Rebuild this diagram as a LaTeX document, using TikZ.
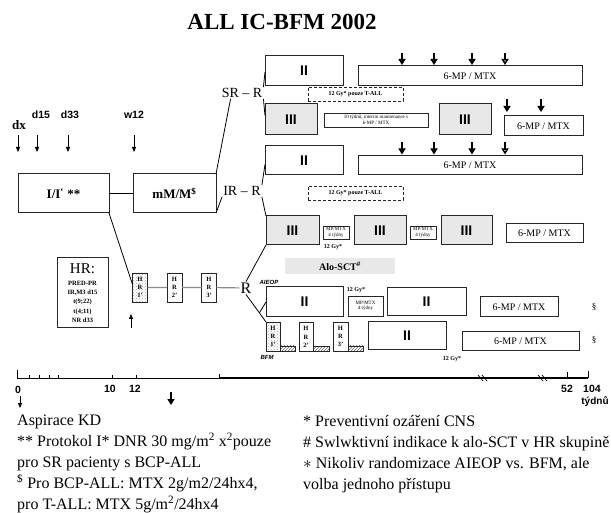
\documentclass[tikz,border=0pt]{standalone}
\usepackage{fontspec}
\setmainfont{Liberation Serif}
\newfontfamily\arialfont{Liberation Sans}
\usetikzlibrary{positioning,arrows.meta,patterns}

\tikzset{
  box/.style={draw=black!85, line width=1pt, inner sep=0pt, outer sep=0pt, align=center},
  roman/.style={box, font=\arialfont\bfseries\fontsize{14}{14}\selectfont},
  greyfill/.style={fill=black!9},
  maint/.style={box, font=\fontsize{10}{10}\selectfont, minimum height=19pt},
  smallbox/.style={box, line width=0.8pt, font=\fontsize{5}{5.6}\selectfont},
  gybox/.style={box, densely dashed, line width=0.9pt, font=\bfseries\fontsize{6}{6}\selectfont,
    minimum width=95pt, minimum height=14pt},
  gylabel/.style={font=\bfseries\fontsize{6}{6}\selectfont, inner sep=0pt},
  hrbox/.style={box, line width=0.9pt, minimum width=15pt, minimum height=29pt,
    font=\bfseries\fontsize{6.5}{8.3}\selectfont},
  hatched/.style={pattern=crosshatch dots, pattern color=black!35},
  strip/.style={draw=black!85, line width=0.6pt, pattern=north east lines, pattern color=black!60},
  arm/.style={font=\fontsize{14}{14}\selectfont, inner sep=1pt},
  day/.style={font=\arialfont\bfseries\fontsize{10.5}{10.5}\selectfont, inner sep=0pt},
  group/.style={font=\arialfont\bfseries\itshape\fontsize{6}{6}\selectfont, inner sep=0pt},
  pulse/.style={line width=1.5pt, -{Triangle[width=7pt,length=6pt]}},
  pulseopen/.style={line width=1.5pt, -{Triangle[open,width=7pt,length=6pt]}},
  thinarrow/.style={line width=0.8pt, -{Triangle[width=4pt,length=5pt]}},
  note/.style={font=\fontsize{16}{21}\selectfont, align=left, inner sep=0pt, anchor=north west},
  link/.style={line width=0.8pt},
}

\begin{document}
\begin{tikzpicture}[x=1pt, y=-1pt]
    \useasboundingbox (0,0) rectangle (611,513);

    \node[font=\bfseries\fontsize{23}{23}\selectfont] (title) at (282,22) {ALL IC-BFM 2002};

    % induction and consolidation
    \node[font=\bfseries\fontsize{13}{13}\selectfont] (dx) at (19,125) {dx};
    \node[day] (d15) at (41,115) {d15};
    \node[day] (d33) at (70,115) {d33};
    \node[day] (w12) at (134,115) {w12};
    \foreach \ax in {18,37,68,134}
        \draw[thinarrow] (\ax,135) -- (\ax,152);
    \node[box, font=\bfseries\fontsize{13}{13}\selectfont, minimum width=91pt, minimum height=39pt] (ind) at (63.5,193.5) {I/I\textsuperscript{‘}\ **};
    \node[box, font=\bfseries\fontsize{13}{13}\selectfont, minimum width=83pt, minimum height=39pt, right=24pt of ind] (mM) {mM/M\textsuperscript{\$}};
    \node[box, minimum width=51pt, minimum height=70pt, font=\bfseries\fontsize{6.5}{9.2}\selectfont] (hrcrit) at (82.5,293)
        {{\mdseries\fontsize{15}{15}\selectfont HR:}\\[3pt]PRED-PR\\IR,M3 d15\\t(9;22)\\t(4;11)\\NR d33};

    % SR branch
    \node[arm] (srR) at (242,93) {SR – R};
    \node[roman, minimum width=78pt, minimum height=30pt] (srII) at (304,71) {II};
    \node[maint, minimum width=224pt, minimum height=20pt] (srMaint) at (470,76) {6-MP / MTX};
    \foreach \dx in {44,76,114} {
        \draw[pulse] ([xshift=\dx pt, yshift=13pt]srMaint.north west) -- ([xshift=\dx pt, yshift=1pt]srMaint.north west);
    }
    \draw[pulseopen] ([xshift=147pt, yshift=13pt]srMaint.north west) -- ([xshift=147pt, yshift=1pt]srMaint.north west);
    \node[gybox] (srGy) at (355.5,94) {12 Gy* pouze T-ALL};
    \node[roman, greyfill, minimum width=52pt, minimum height=31pt] (srIII) at (291,119.5) {III};
    \node[smallbox, minimum width=104pt, minimum height=14pt] (srInterim) at (376,120) {10 týdnů, interim maintenance s\\6-MP / MTX};
    \node[roman, greyfill, minimum width=52pt, minimum height=31pt] (srIIIb) at (465,119.5) {III};
    \node[maint, minimum width=79pt, minimum height=20pt] (srMaintB) at (543.5,126) {6-MP / MTX};
    \foreach \dx in {3,37} {
        \draw[pulse] ([xshift=\dx pt, yshift=17pt]srMaintB.north west) -- ([xshift=\dx pt, yshift=4pt]srMaintB.north west);
    }

    % IR branch
    \node[arm] (irR) at (242,191) {IR – R};
    \node[roman, minimum width=78pt, minimum height=29pt] (irII) at (304,160.5) {II};
    \node[maint, minimum width=224pt] (irMaint) at (470,165) {6-MP / MTX};
    \foreach \dx in {44,76,114} {
        \draw[pulse] ([xshift=\dx pt, yshift=13pt]irMaint.north west) -- ([xshift=\dx pt, yshift=1pt]irMaint.north west);
    }
    \draw[pulseopen] ([xshift=147pt, yshift=13pt]irMaint.north west) -- ([xshift=147pt, yshift=1pt]irMaint.north west);
    \node[gybox] (irGy) at (355.5,193.5) {12 Gy* pouze T-ALL};
    \node[roman, greyfill, minimum width=53pt, minimum height=29pt] (irIII) at (292.5,230.5) {III};
    \node[smallbox, minimum width=26pt, minimum height=13pt] (irMP) at (336,232.5) {MP/MTX\\4 týdny};
    \node[gylabel] (irGyLabel) at (333,247) {12 Gy*};
    \node[roman, greyfill, minimum width=52pt, minimum height=29pt] (irIIIb) at (380,230.5) {III};
    \node[smallbox, minimum width=26pt, minimum height=13pt] (irMPb) at (423,232.5) {MP/MTX\\4 týdny};
    \node[roman, greyfill, minimum width=51pt, minimum height=29pt] (irIIIc) at (466.5,230.5) {III};
    \node[maint, minimum width=77pt] (irMaintB) at (544.5,233.5) {6-MP / MTX};

    % HR branch
    \node[fill=black!9, minimum width=110pt, minimum height=16pt, font=\bfseries\fontsize{10}{10}\selectfont] (alo) at (340,266) {Alo-SCT\textsuperscript{\#}};
    \node[hrbox, hatched] (hr1) at (140,287.5) {H\\R\\1’};
    \node[hrbox, right=19.5pt of hr1] (hr2) {H\\R\\2’};
    \node[hrbox, right=19.5pt of hr2] (hr3) {H\\R\\3’};
    \node[font=\fontsize{16}{16}\selectfont, inner sep=1pt] (hrR) at (246,288) {R};
    \draw[thinarrow] (131,328) -- (131,314);

    % AIEOP
    \node[group] (aieop) at (269,282) {AIEOP};
    \node[roman, minimum width=77pt, minimum height=30pt] (aiII) at (304.5,302) {II};
    \node[gylabel] (aiGy) at (356,290) {12 Gy*};
    \node[smallbox, minimum width=35pt, minimum height=20pt] (aiMP) at (365.5,306) {MP/MTX\\4 týdny};
    \node[roman, minimum width=79pt, minimum height=28pt] (aiIIb) at (426.5,302) {II};
    \node[maint, minimum width=78pt, minimum height=20pt] (aiMaint) at (519,307) {6-MP / MTX};
    \node[font=\fontsize{9}{9}\selectfont] (aiPar) at (594,307) {§};

    % BFM
    \node[hrbox, hatched, minimum width=14pt] (bfm1) at (273,336.5) {H\\R\\1’};
    \node[hrbox, minimum width=14pt] (bfm2) at (306,337) {H\\R\\2’};
    \node[hrbox] (bfm3) at (340.5,336.5) {H\\R\\3’};
    \draw[strip] (bfm1.south east) rectangle ++(15,-5);
    \draw[strip] (bfm2.south east) rectangle ++(16,-5);
    \draw[strip] (bfm3.south east) rectangle ++(15,-5);
    \node[group] (bfm) at (267,357) {BFM};
    \node[roman, minimum width=78pt, minimum height=28pt] (bfmII) at (407,336) {II};
    \node[maint, minimum width=117pt] (bfmMaint) at (520.5,341.5) {6-MP / MTX};
    \node[font=\fontsize{9}{9}\selectfont] (bfmPar) at (594,340) {§};
    \node[gylabel] (bfmGy) at (452,359) {12 Gy*};

    % connectors
    \draw[link] (ind) -- (mM);
    \draw[link] (mM.north east) -- ([xshift=10pt]srR.south west);
    \draw[link] (mM.south east) -- (irR.south west);
    \draw[link] (ind.south east) -- ([yshift=3pt]hr1.west);
    \draw[link] (srR.north east) -- ([yshift=-1pt]srII.west);
    \draw[link] (srR.south east) -- ([yshift=4pt]srIII.west);
    \draw[link] (irR.north east) -- ([yshift=-4pt]irII.west);
    \draw[link] (irR.south east) -- (irIII.north west);
    \draw[link] (hrR.north) -- (irIII.south west);
    \draw[link] (hrR.south) -- (bfm1.north west) coordinate[pos=0.67] (fork);
    \draw[link] (fork) -- (aiII.west);
    \draw[black!45, line width=1.2pt] (hr1) -- (hr2) -- (hr3) -- (hrR);

    % time axis
    \draw[line width=0.7pt] (17,378) -- (219,378);
    \draw[line width=1.1pt] (219,378) -- (588,378);
    \draw[line width=0.7pt] (17,370) -- (17,378);
    \foreach \tx in {29,39,49,58,112,136}
        \draw[line width=0.6pt] (\tx,375) -- (\tx,378);
    \draw[line width=0.8pt] (219,374) -- (219,378);
    \draw[line width=0.8pt] (567,372) -- (567,378);
    \draw[line width=0.8pt] (588,371) -- (588,378);
    \foreach \bx in {482,542} {
        \draw[line width=0.7pt] (\bx-4,375) -- (\bx+1,381);
        \draw[line width=0.7pt] (\bx,375) -- (\bx+5,381);
    }
    \node[day] (t0) at (18,390) {0};
    \node[day] (t10) at (110,389) {10};
    \node[day] (t12) at (135,389) {12};
    \node[day] (t52) at (567,389) {52};
    \node[day] (t104) at (592,389) {104};
    \node[day, font=\arialfont\bfseries\fontsize{10}{10}\selectfont] (weeks) at (595,402) {týdnů};
    \draw[thinarrow] (20,396) -- (20,408);
    \draw[pulse] (171,392) -- (171,405);

    % footnotes
    \node[note] (notesL) at (17,415) {Aspirace KD\\** Protokol I* DNR 30 mg/m\textsuperscript{2} x\textsuperscript{2}pouze\\pro SR pacienty s BCP-ALL\\\textsuperscript{\$} Pro BCP-ALL: MTX 2g/m2/24hx4,\\pro T-ALL: MTX 5g/m\textsuperscript{2}/24hx4};
    \node[note] (notesR) at (303,415) {* Preventivní ozáření CNS\\\# Swlwktivní indikace k alo-SCT v HR skupině\\$\ast$ Nikoliv randomizace AIEOP vs. BFM, ale\\volba jednoho přístupu};
\end{tikzpicture}
\end{document}
